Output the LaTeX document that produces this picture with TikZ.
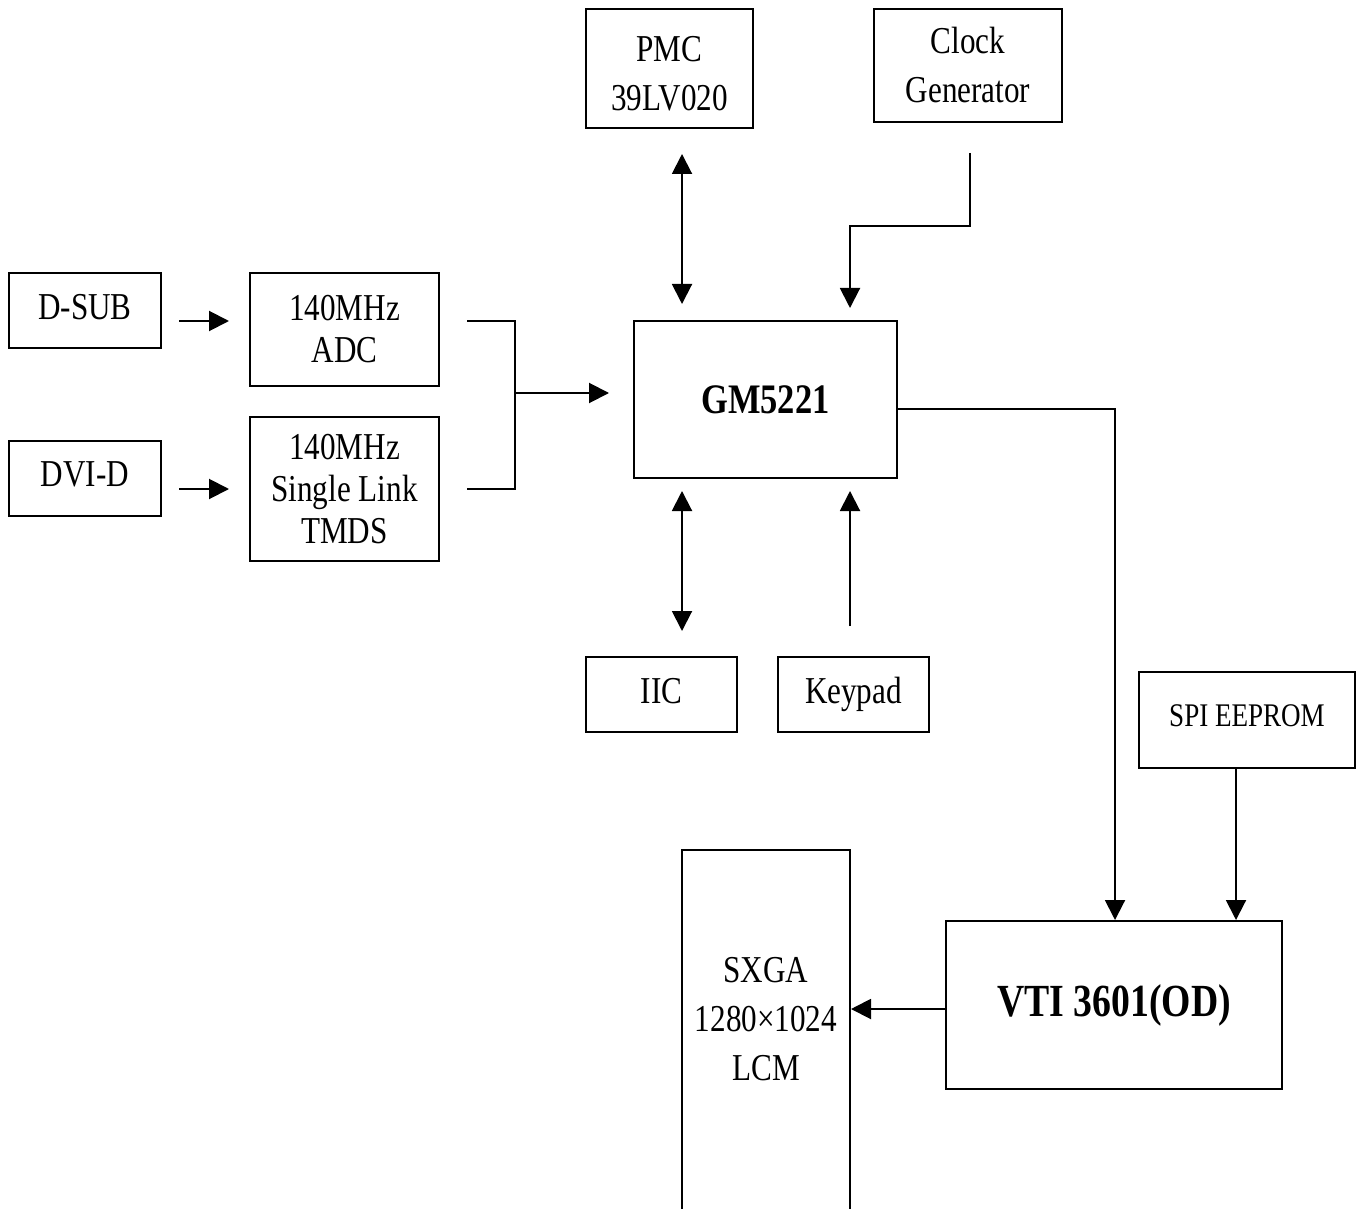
\documentclass[tikz,border=0pt]{standalone}
\usepackage{fontspec}
\setmainfont{Liberation Serif}[FakeStretch=0.82]
\usetikzlibrary{arrows.meta}
\newcommand{\lowr}{\rule[-4pt]{0pt}{0pt}}
\begin{document}
\begin{tikzpicture}[x=0.5pt,y=-0.5pt,
  line/.style={line width=1pt},
  arr/.style={line width=1pt,-{Triangle[length=10pt,width=10pt]}},
  dbl/.style={line width=1pt,{Triangle[length=10pt,width=10pt]}-{Triangle[length=10pt,width=10pt]}},
  box/.style={draw,line width=1pt,inner sep=0pt,align=center,font=\fontsize{19}{21}\selectfont},
  wide/.style={font=\fontsize{19}{24.5}\selectfont}]
\useasboundingbox (0,0) rectangle (1363,1208);
% boxes
\node[box,minimum width=76pt,minimum height=37.5pt] (dsub) at (85,310.5) {D-SUB\lowr};
\node[box,minimum width=76pt,minimum height=37.5pt] (dvid) at (85,478.5) {DVI-D\lowr};
\node[box,minimum width=94.5pt,minimum height=56.5pt] (adc) at (344.5,329.5) {140MHz\\ADC};
\node[box,minimum width=94.5pt,minimum height=72pt] (tmds) at (344.5,489) {140MHz\\Single Link\\TMDS};
\node[box,minimum width=131.5pt,minimum height=78.5pt,font=\fontsize{21}{24}\selectfont\bfseries] (gm) at (765.5,399.5) {GM5221};
\node[box,wide,minimum width=83.5pt,minimum height=59.5pt] (pmc) at (669.5,68.5) {\rule{0pt}{17.5pt}PMC\\39LV020};
\node[box,wide,minimum width=94pt,minimum height=56.5pt] (clk) at (968,65.5) {Clock\\Generator};
\node[box,minimum width=75.5pt,minimum height=37.5pt] (iic) at (661.5,694.5) {IIC\lowr};
\node[box,minimum width=75.5pt,minimum height=37.5pt] (key) at (853.5,694.5) {Keypad};
\node[box,minimum width=108pt,minimum height=48pt,font=\fontsize{16.5}{20}\selectfont] (spi) at (1247,720) {SPI EEPROM\lowr};
\node[box,minimum width=168pt,minimum height=84pt,font=\fontsize{23}{27}\selectfont\bfseries] (vti) at (1114,1005) {VTI 3601(OD)};
\node[box,draw=none,wide,minimum width=84pt] (sxga) at (766,1019) {SXGA\\1280×1024\\LCM};
\draw[line] (682,1215) -- (682,850) -- (850,850) -- (850,1215);
% connectors
\draw[arr] ([shift={(17,10.5)}]dsub.east) -- ++(50,0);
\draw[arr] ([shift={(17,10.5)}]dvid.east) -- ++(50,0);
\draw[line] ([shift={(27,-8.5)}]adc.east) -- ++(48,0) |- ([xshift=13.5pt]tmds.east);
\coordinate (join) at (514,393);
\draw[arr] (join) -- ([shift={(-24,-6.5)}]gm.west);
\draw[dbl] ([shift={(12.5,25)}]pmc.south) -- ([shift={(-83.5,-16)}]gm.north);
\draw[arr] ([shift={(2,30)}]clk.south) -- ++(0,73) -| ([shift={(84.5,-12)}]gm.north);
\draw[dbl] ([shift={(-83.5,12)}]gm.south) -- ([shift={(20.5,-25)}]iic.north);
\draw[arr] ([shift={(-3.5,-30)}]key.north) -- ([shift={(84.5,12)}]gm.south);
\draw[arr] ([shift={(0,9.5)}]gm.east) -| ([xshift=0.5pt]vti.north);
\draw[arr] ([xshift=-5.5pt]spi.south) -- ([xshift=-5.5pt]spi.south |- vti.north);
\draw[arr] ([shift={(0,4)}]vti.west) -- ([shift={(0,4)}]vti.west -| sxga.east);
\end{tikzpicture}
\end{document}
